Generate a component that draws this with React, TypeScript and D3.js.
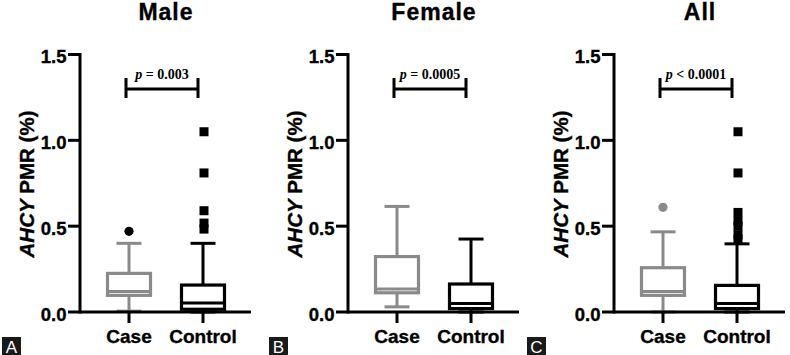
import React from "react";
import * as d3 from "d3";

const categories = ["Case", "Control"];
const panelTitles = ["Male", "Female", "All"];
const panelLetters = ["A", "B", "C"];
const pOperators = ["=", "=", "<"];
const pValues = ["0.003", "0.0005", "0.0001"];
const yTicks = [0, 0.5, 1.0, 1.5];

// box stats: [whiskerLow, q1, median, q3, whiskerHigh]
const maleCase = [0.005, 0.097, 0.12, 0.225, 0.4];
const maleControl = [0.0, 0.016, 0.052, 0.157, 0.4];
const femaleCase = [0.03, 0.112, 0.134, 0.323, 0.615];
const femaleControl = [0.0, 0.02, 0.05, 0.163, 0.425];
const allCase = [0.0, 0.097, 0.12, 0.258, 0.467];
const allControl = [0.0, 0.02, 0.05, 0.155, 0.397];

const maleCaseOutliers = [0.47];
const maleControlOutliers = [1.05, 0.81, 0.59, 0.518, 0.483];
const femaleCaseOutliers: number[] = [];
const femaleControlOutliers: number[] = [];
const allCaseOutliers = [0.61];
const allControlOutliers = [1.05, 0.81, 0.58, 0.53, 0.5, 0.45, 0.425];

const boxData = [
  [maleCase, maleControl],
  [femaleCase, femaleControl],
  [allCase, allControl],
];
const outlierData = [
  [maleCaseOutliers, maleControlOutliers],
  [femaleCaseOutliers, femaleControlOutliers],
  [allCaseOutliers, allControlOutliers],
];

// layout
const panelOffsets = [0, 268, 534];
const letterX = [2, 269, 527];
const GRAY = "#8a8a8a";
const BLACK = "#000";
const FONT = "'Liberation Sans', Arial, Helvetica, sans-serif";
const SERIF = "'Liberation Serif', 'Times New Roman', serif";
const HEAVY = { stroke: "#000", strokeWidth: 0.35 };

const y = d3.scaleLinear().domain([0, 1.5]).range([312, 54.5]);
const fmt = d3.format(".1f");

function Panel({ i }: { i: number }) {
  const axisX = panelOffsets[i] + 80;
  const x = d3
    .scalePoint<string>()
    .domain(categories)
    .range([axisX + 49, axisX + 123]);
  const y0 = y(0);
  const axisEnd = axisX + 171;
  const cx0 = x(categories[0])!;
  const cx1 = x(categories[1])!;
  const mid = (cx0 + cx1) / 2;
  const boxW = 43;
  const capW = 25;
  const sq = 9;

  return (
    <g>
      {/* title */}
      <text
        x={mid}
        y={20}
        textAnchor="middle"
        fontFamily={FONT}
        fontWeight="bold"
        fontSize={23}
        letterSpacing={1}
        {...HEAVY}
      >
        {panelTitles[i]}
      </text>

      {/* p-value */}
      <text
        x={(cx0 - 3 + cx1 - 5) / 2}
        y={79}
        textAnchor="middle"
        fontFamily={SERIF}
        fontWeight="bold"
        fontSize={14}
      >
        <tspan fontStyle="italic">p</tspan>
        {` ${pOperators[i]} ${pValues[i]}`}
      </text>
      <path
        d={`M${cx0 - 3},78V98M${cx0 - 3},89H${cx1 - 5}M${cx1 - 5},78V98`}
        stroke={BLACK}
        strokeWidth={3}
        fill="none"
      />

      {/* boxes */}
      {categories.map((c, k) => {
        const s = boxData[i][k];
        const cx = x(c)!;
        const col = k === 0 ? GRAY : BLACK;
        return (
          <g key={c}>
            <line x1={cx} x2={cx} y1={y(s[0])} y2={y(s[1])} stroke={col} strokeWidth={3} />
            <line x1={cx} x2={cx} y1={y(s[3])} y2={y(s[4])} stroke={col} strokeWidth={3} />
            <line x1={cx - capW / 2} x2={cx + capW / 2} y1={y(s[0])} y2={y(s[0])} stroke={col} strokeWidth={3} />
            <line x1={cx - capW / 2} x2={cx + capW / 2} y1={y(s[4])} y2={y(s[4])} stroke={col} strokeWidth={3} />
            <rect
              x={cx - boxW / 2}
              y={y(s[3])}
              width={boxW}
              height={y(s[1]) - y(s[3])}
              fill="#fff"
              stroke={col}
              strokeWidth={3.2}
            />
            <line x1={cx - boxW / 2} x2={cx + boxW / 2} y1={y(s[2])} y2={y(s[2])} stroke={col} strokeWidth={3} />
            {outlierData[i][k].map((v, j) =>
              k === 0 ? (
                <circle key={j} cx={cx} cy={y(v)} r={4.6} fill={i === 2 ? GRAY : BLACK} />
              ) : (
                <rect key={j} x={cx + 1 - sq / 2} y={y(v) - sq / 2} width={sq} height={sq} fill={BLACK} />
              )
            )}
          </g>
        );
      })}

      {/* y axis */}
      <line x1={axisX} x2={axisX} y1={y(1.5) - 1.5} y2={y0 + 1.5} stroke={BLACK} strokeWidth={3} />
      {yTicks.map((t) => (
        <g key={t}>
          <line x1={axisX - 12} x2={axisX} y1={y(t)} y2={y(t)} stroke={BLACK} strokeWidth={3} />
          <text
            x={axisX - 13.5}
            y={y(t) + 8.5}
            textAnchor="end"
            fontFamily={FONT}
            fontWeight="bold"
            fontSize={18.5}
            {...HEAVY}
          >
            {fmt(t)}
          </text>
        </g>
      ))}
      <text
        transform={`translate(${axisX - 46},184) rotate(-90)`}
        textAnchor="middle"
        fontFamily={FONT}
        fontWeight="bold"
        fontSize={20.5}
        {...HEAVY}
      >
        <tspan fontStyle="italic">AHCY</tspan> PMR (%)
      </text>

      {/* x axis */}
      <line x1={axisX} x2={axisEnd} y1={y0} y2={y0} stroke={BLACK} strokeWidth={3} />
      {categories.map((c) => (
        <g key={c}>
          <line x1={x(c)} x2={x(c)} y1={y0} y2={y0 + 11} stroke={BLACK} strokeWidth={3} />
          <text
            x={x(c)}
            y={343}
            textAnchor="middle"
            fontFamily={FONT}
            fontWeight="bold"
            fontSize={19}
            {...HEAVY}
          >
            {c}
          </text>
        </g>
      ))}

      {/* panel letter */}
      <rect x={letterX[i]} y={337} width={19} height={18} fill="#1a1a1a" />
      <text
        x={letterX[i] + 9.5}
        y={352.5}
        textAnchor="middle"
        fontFamily={FONT}
        fontSize={17}
        fill="#fff"
      >
        {panelLetters[i]}
      </text>
    </g>
  );
}

export default function App() {
  return (
    <svg
      width={790}
      height={355}
      viewBox="0 0 790 355"
      style={{ position: "absolute", left: 0, top: 0, background: "#fff" }}
    >
      <rect width={790} height={355} fill="#fff" />
      {panelTitles.map((_, i) => (
        <Panel key={i} i={i} />
      ))}
    </svg>
  );
}
